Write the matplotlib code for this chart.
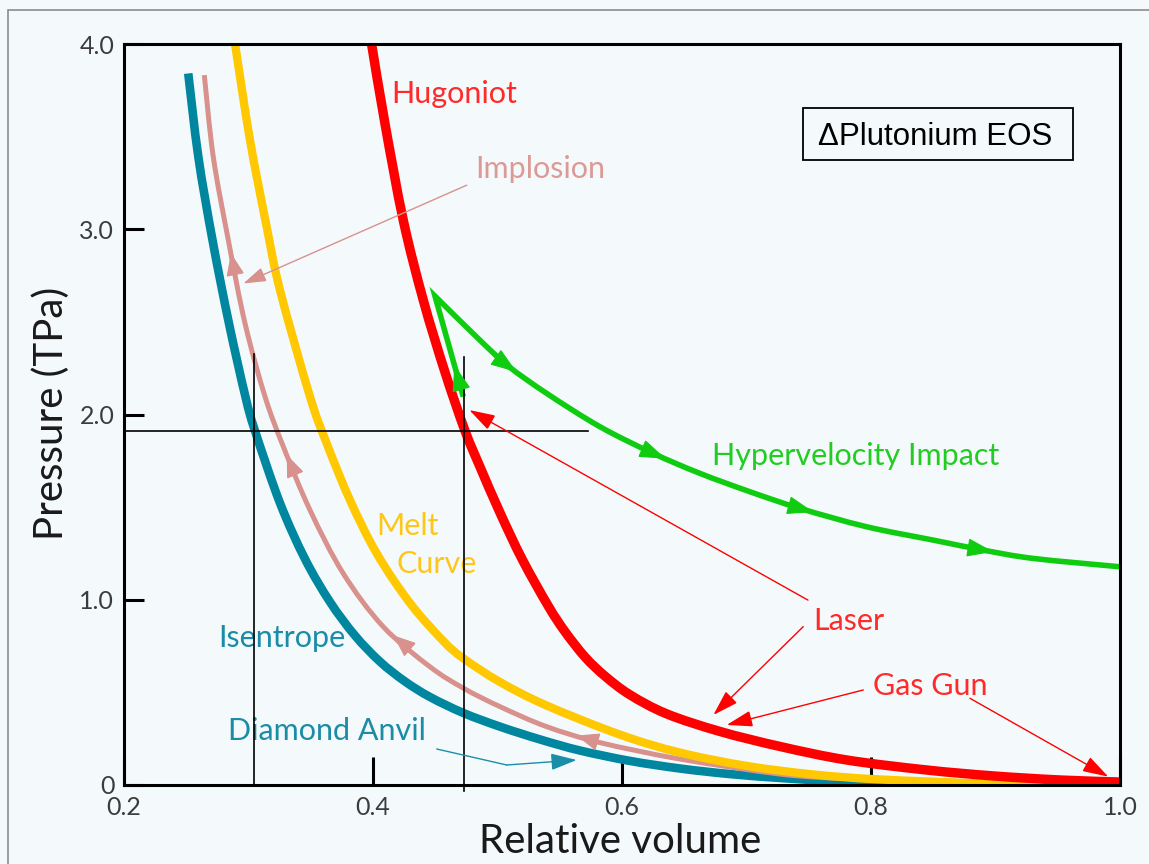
import numpy as np
import matplotlib
matplotlib.use('Agg')
import matplotlib.pyplot as plt
from matplotlib.patches import FancyArrowPatch, Rectangle, PathPatch
from matplotlib.path import Path

# curves: relative volume vs pressure (TPa)
iso_v = [0.2516, 0.2597, 0.2711, 0.2843, 0.2976, 0.3052, 0.3253, 0.3454, 0.3655, 0.3855,
         0.4056, 0.4257, 0.4458, 0.4725, 0.5020, 0.5341, 0.5663, 0.6064, 0.6466, 0.6867,
         0.7269, 0.7671, 0.8072, 0.9036, 1.0]
iso_p = [3.841, 3.391, 2.941, 2.492, 2.094, 1.912, 1.522, 1.220, 0.988, 0.807,
         0.666, 0.559, 0.475, 0.389, 0.315, 0.246, 0.186, 0.130, 0.089, 0.059,
         0.038, 0.022, 0.012, 0.003, 0.0]

imp_v = [0.2645, 0.2717, 0.2838, 0.2972, 0.3133, 0.3280, 0.3494, 0.3761, 0.4083,
         0.4458, 0.4725, 0.5020, 0.5395, 0.5823, 0.6466, 0.7269, 0.7751]
imp_p = [3.832, 3.391, 2.941, 2.492, 2.096, 1.826, 1.484, 1.142, 0.854,
         0.638, 0.523, 0.423, 0.315, 0.229, 0.140, 0.059, 0.035]

melt_v = [0.2892, 0.3012, 0.3146, 0.3253, 0.3494, 0.3628, 0.3815, 0.4030, 0.4297, 0.4565,
          0.4725, 0.5020, 0.5395, 0.5992, 0.6466, 0.7002, 0.7537, 0.8072, 0.9036, 1.0]
melt_p = [4.000, 3.481, 3.013, 2.671, 2.096, 1.844, 1.538, 1.250, 0.982, 0.777,
          0.684, 0.556, 0.429, 0.270, 0.175, 0.103, 0.057, 0.030, 0.006, 0.0]

hug_v = [0.3990, 0.4096, 0.4243, 0.4404, 0.4578, 0.4739, 0.4859, 0.5020, 0.5197, 0.5406,
         0.5542, 0.5703, 0.5863, 0.6064, 0.6359, 0.6787, 0.7269, 0.7805, 0.8447, 0.8982,
         0.9518, 1.0]
hug_p = [3.994, 3.571, 3.049, 2.617, 2.229, 1.912, 1.718, 1.470, 1.220, 0.968,
         0.828, 0.691, 0.588, 0.487, 0.384, 0.289, 0.208, 0.135, 0.081, 0.049,
         0.027, 0.016]

# hypervelocity impact: up from the hugoniot to the apex, then down to the right
hyp_v = [0.4725, 0.4498, 0.4859, 0.5087, 0.5395, 0.5823, 0.6251, 0.6627, 0.7028, 0.7430,
         0.7965, 0.8500, 0.8902, 0.9304, 1.0]
hyp_p = [2.096, 2.639, 2.401, 2.261, 2.114, 1.934, 1.790, 1.682, 1.583, 1.493,
         1.394, 1.322, 1.268, 1.223, 1.178]

# crosshair
cross_p = 1.91
cross_v = [0.3044, 0.473]

xticks = [0.2, 0.4, 0.6, 0.8, 1.0]
xtick_labels = ['0.2', '0.4', '0.6', '0.8', '1.0']
yticks = [0, 1, 2, 3, 4]
ytick_labels = ['0', '1.0', '2.0', '3.0', '4.0']

bg = '#f4fafc'
teal = '#00869f'
pink = '#d8918c'
yellow = '#ffc800'
red = '#ff0000'
green = '#10cc10'
font = 'Lato'

W, H = 1149, 864
fig = plt.figure(figsize=(W / 100, H / 100), dpi=100, facecolor=bg)
ax = fig.add_axes([124 / W, 1 - 785 / H, 996 / W, 741 / H], facecolor=bg)
ax.set_xlim(0.2, 1.0)
ax.set_ylim(0, 4.0)

fig.add_artist(Rectangle((8 / W, -0.1), 1.2, 1.1 - 10 / H, transform=fig.transFigure,
                         fill=False, ec='#8c8c8c', lw=1.2))


def smooth_path(v, p, start=None):
    # catmull-rom style bezier through the read points
    pts = np.column_stack([v, p])
    n = len(pts)
    verts, codes = [], []
    if start is not None:
        verts += [start, pts[0]]
        codes += [Path.MOVETO, Path.LINETO]
    else:
        verts.append(pts[0])
        codes.append(Path.MOVETO)
    for i in range(n - 1):
        p0 = pts[max(i - 1, 0)]
        p1 = pts[i]
        p2 = pts[i + 1]
        p3 = pts[min(i + 2, n - 1)]
        verts += [p1 + (p2 - p0) / 6, p2 - (p3 - p1) / 6, p2]
        codes += [Path.CURVE4] * 3
    return Path(verts, codes)


def draw_curve(v, p, color, lw, z, start=None):
    patch = PathPatch(smooth_path(v, p, start), fill=False, ec=color, lw=lw,
                      capstyle='butt', joinstyle='miter', zorder=z)
    ax.add_patch(patch)


draw_curve(iso_v, iso_p, teal, 6.2, 3)
draw_curve(imp_v, imp_p, pink, 3.6, 3.1)
draw_curve(melt_v, melt_p, yellow, 6.0, 3.2)
draw_curve(hug_v, hug_p, red, 6.8, 3.3)
draw_curve(hyp_v[1:], hyp_p[1:], green, 4.0, 3.4, start=(hyp_v[0], hyp_p[0]))

# crosshair lines
ax.plot([0.2, 0.573], [cross_p, cross_p], color='k', lw=1.2, zorder=4)
ax.plot([cross_v[0], cross_v[0]], [0, 2.326], color='k', lw=1.2, zorder=4)
ax.plot([cross_v[1], cross_v[1]], [-0.03, 2.31], color='k', lw=1.2, zorder=4, clip_on=False)


def arrow(tail, tip, color, hl, hw, lw=1.0, z=5):
    a = FancyArrowPatch(tail, tip, arrowstyle='-|>,head_length=%g,head_width=%g' % (hl, hw),
                        mutation_scale=1, color=color, lw=lw, shrinkA=0, shrinkB=0,
                        zorder=z, joinstyle='miter')
    ax.add_patch(a)


def curve_arrow(v, p, at, color, step, hl, hw):
    # head sits on the curve at V=at, pointing along it (step sign gives direction)
    tip = (at, np.interp(at, v, p))
    tail = (at - step, np.interp(at - step, v, p))
    arrow(tail, tip, color, hl, hw, lw=0.8)


for at in [0.2859, 0.3307, 0.4163, 0.5636]:
    curve_arrow(imp_v, imp_p, at, pink, -0.002, 14.5, 5.8)
for at in [0.5154, 0.635, 0.7537, 0.8982]:
    curve_arrow(hyp_v[1:], hyp_p[1:], at, green, 0.002, 17, 6)
# arrow on the rising green branch
p_tip = 2.267
seg_p = [hyp_p[0], hyp_p[1]]
seg_v = [hyp_v[0], hyp_v[1]]
arrow((np.interp(p_tip - 0.02, seg_p, seg_v), p_tip - 0.02),
      (np.interp(p_tip, seg_p, seg_v), p_tip), green, 17, 6, lw=0.8)

# pointer arrows from labels
arrow((0.4753, 3.238), (0.2958, 2.707), pink, 14, 4.5, lw=1.0)
arrow((0.7494, 0.998), (0.4774, 2.024), red, 16, 5, lw=1.0)
arrow((0.7456, 0.855), (0.6734, 0.378), red, 16, 5, lw=1.0)
arrow((0.7938, 0.513), (0.6841, 0.324), red, 16, 5, lw=1.0)
arrow((0.8795, 0.468), (0.9906, 0.045), red, 16, 5, lw=1.0)
ax.plot([0.4514, 0.5074], [0.194, 0.108], color='#1a8ea8', lw=1.0, zorder=5)
arrow((0.5074, 0.108), (0.5636, 0.135), '#1a8ea8', 16, 5.2, lw=1.0)

fs = 22
ax.text(0.4150, 3.679, 'Hugoniot', color='#ff2a2a', fontsize=fs, family=font, va='baseline')
ax.text(0.4819, 3.274, 'Implosion', color='#dc9a96', fontsize=fs, family=font, va='baseline')
ax.text(0.6720, 1.727, 'Hypervelocity Impact', color='#22cc22', fontsize=fs, family=font, va='baseline')
ax.text(0.4030, 1.349, 'Melt', color='#ffc61a', fontsize=fs, family=font, va='baseline')
ax.text(0.4190, 1.142, 'Curve', color='#ffc61a', fontsize=fs, family=font, va='baseline')
ax.text(0.2757, 0.746, 'Isentrope', color='#1b8ca6', fontsize=fs, family=font, va='baseline')
ax.text(0.2838, 0.243, 'Diamond Anvil', color='#1b8ca6', fontsize=fs, family=font, va='baseline')
ax.text(0.7537, 0.836, 'Laser', color='#ff2a2a', fontsize=fs, family=font, va='baseline')
ax.text(0.8018, 0.486, 'Gas Gun', color='#ff2a2a', fontsize=fs, family=font, va='baseline')

# title box
ax.add_patch(Rectangle((0.6814, 0.8435), 0.2717, 0.0697, transform=ax.transAxes,
                       fill=False, ec='k', lw=1.3, zorder=6))
ax.text(0.8147, 0.8637, '\u0394Plutonium EOS', transform=ax.transAxes, ha='center',
        va='baseline', fontsize=22.5, family='Liberation Sans', color='k', zorder=6)

ax.set_xticks(xticks)
ax.set_xticklabels(xtick_labels)
ax.set_yticks(yticks)
ax.set_yticklabels(ytick_labels)
ax.tick_params(axis='x', direction='in', length=20, width=2.2, pad=8,
               labelsize=18, labelcolor='#3c3c3c')
ax.tick_params(axis='y', direction='in', length=14.5, width=2.2, pad=7,
               labelsize=18, labelcolor='#3c3c3c')
for lab in ax.get_xticklabels() + ax.get_yticklabels():
    lab.set_family(font)
for s in ax.spines.values():
    s.set_linewidth(2.2)
    s.set_zorder(7)

fig.text(63 / W, 1 - 413 / H, 'Pressure (TPa)', rotation=90, rotation_mode='anchor',
         ha='center', va='baseline', fontsize=29, family=font, color='#1a1a1a')
fig.text(620 / W, 1 - 853 / H, 'Relative volume', ha='center', va='baseline',
         fontsize=29, family=font, color='#1a1a1a')

fig.savefig('out.png', dpi=100, facecolor=bg)
